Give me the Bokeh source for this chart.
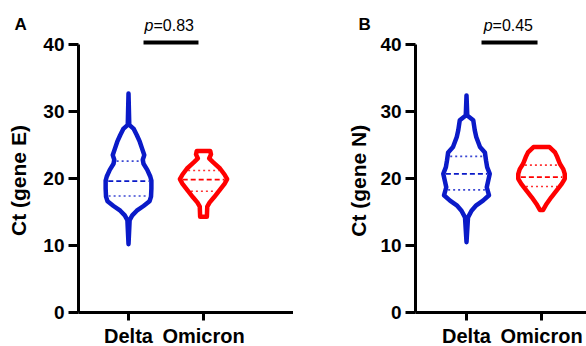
import numpy as np
from math import pi
from bokeh.plotting import figure
from bokeh.models import Range1d, FixedTicker, Label
from bokeh.layouts import row
from bokeh.embed import file_html
from bokeh.resources import INLINE

# ---------------- data ----------------
groups = ["Delta", "Omicron"]
y_ticks = [0, 10, 20, 30, 40]

# Panel A (gene E): violin profiles (Ct level, half-width in category units)
delta_e_ct = [32.7, 28.0, 27.4, 26.5, 25.5, 24.5, 23.5, 22.8, 22.2, 21.3, 20.3, 19.7, 18.5, 17.3, 16.6, 15.9, 15.2, 14.5, 13.8, 10.2]
delta_e_w = [0, 0.01, 0.07, 0.11, 0.15, 0.18, 0.21, 0.19, 0.20, 0.25, 0.29, 0.305, 0.305, 0.30, 0.28, 0.20, 0.11, 0.05, 0.015, 0]
omicron_e_ct = [24.1, 23.6, 23.0, 22.4, 21.5, 20.6, 19.9, 19.2, 18.2, 17.2, 16.4, 15.8, 14.3]
omicron_e_w = [0.09, 0.10, 0.075, 0.13, 0.22, 0.28, 0.315, 0.28, 0.21, 0.14, 0.08, 0.05, 0.045]
delta_e_quart = [17.4, 19.6, 22.6]
omicron_e_quart = [18.1, 19.85, 21.2]
p_e = "=0.83"

# Panel B (gene N)
delta_n_ct = [32.4, 29.4, 28.7, 27.2, 26.2, 24.7, 23.9, 22.7, 21.7, 20.7, 19.7, 18.7, 17.5, 16.7, 16.0, 15.2, 14.2, 10.5]
delta_n_w = [0, 0.01, 0.09, 0.11, 0.13, 0.18, 0.245, 0.26, 0.275, 0.31, 0.29, 0.27, 0.30, 0.22, 0.13, 0.067, 0.02, 0]
omicron_n_ct = [24.7, 23.9, 23.2, 22.2, 21.4, 20.7, 19.95, 19.2, 18.2, 17.2, 16.2, 15.3]
omicron_n_w = [0.107, 0.18, 0.21, 0.245, 0.29, 0.31, 0.31, 0.27, 0.20, 0.13, 0.067, 0.02]
delta_n_quart = [18.3, 20.7, 23.3]
omicron_n_quart = [18.8, 20.2, 22.0]
p_n = "=0.45"

BLUE = "#0A1AC8"
RED = "#FF0000"
FONT = "Liberation Sans"


def violin(p, center, ct, w, quart, color):
    ct = np.array(ct, dtype=float)
    w = np.array(w, dtype=float)
    xs = np.concatenate([center + w, (center - w)[::-1]])
    ys = np.concatenate([ct, ct[::-1]])
    p.patch(xs, ys, fill_alpha=0, line_color=color, line_width=4.5, line_join="round")
    order = np.argsort(ct)
    for i, q in enumerate(quart):
        hw = np.interp(q, ct[order], w[order]) - 0.035
        if i == 1:
            p.line([center - hw, center + hw], [q, q], line_color=color, line_width=1.8, line_dash="5 3")
        else:
            p.line([center - hw, center + hw], [q, q], line_color=color, line_width=1.6,
                   line_dash="2 3", line_alpha=0.8)


def panel(letter, ylabel, pval, xr, axis_x, violins, letter_x, label_x, label_y, p_x, bar_x):
    p = figure(output_backend="svg", toolbar_location=None,
               x_range=Range1d(*xr), y_range=Range1d(-5.07, 46.57),
               frame_width=293, frame_height=346,
               min_border_left=0, min_border_right=0,
               min_border_top=0, min_border_bottom=0,
               background_fill_color="white", border_fill_color="white")
    p.outline_line_color = None
    p.grid.visible = False

    ya = p.yaxis[0]
    ya.fixed_location = axis_x
    ya.ticker = FixedTicker(ticks=y_ticks)
    ya.bounds = (0, 40)
    ya.axis_line_width = 3
    ya.major_tick_line_width = 3
    ya.major_tick_out = 10
    ya.major_tick_in = 0
    ya.minor_tick_line_color = None
    ya.major_label_text_font = FONT
    ya.major_label_text_font_style = "bold"
    ya.major_label_text_font_size = "19px"
    ya.major_label_text_color = "black"
    ya.major_label_standoff = 4

    xa = p.xaxis[0]
    xa.fixed_location = 0
    xa.ticker = FixedTicker(ticks=[1, 2])
    xa.bounds = (axis_x, xr[1])
    xa.major_label_overrides = {1: groups[0], 2: groups[1]}
    xa.axis_line_width = 3
    xa.major_tick_line_width = 3
    xa.major_tick_out = 8
    xa.major_tick_in = 0
    xa.minor_tick_line_color = None
    xa.major_label_text_font = FONT
    xa.major_label_text_font_style = "bold"
    xa.major_label_text_font_size = "20px"
    xa.major_label_text_color = "black"
    xa.major_label_standoff = 4

    for center, (ct, w, quart, color) in zip([1, 2], violins):
        violin(p, center, ct, w, quart, color)

    # significance bar and p value
    p.line(bar_x, [40.3, 40.3], line_color="black", line_width=4)
    p.add_layout(Label(x=p_x, y=42.85, text="p", text_font=FONT, text_font_style="italic",
                       text_font_size="16px", text_align="right", text_baseline="alphabetic",
                       text_color="black"))
    p.add_layout(Label(x=p_x, y=42.85, text=pval, text_font=FONT,
                       text_font_size="16px", text_align="left", text_baseline="alphabetic",
                       text_color="black"))

    # panel letter
    p.add_layout(Label(x=letter_x, y=43.0, text=letter, text_font=FONT, text_font_style="bold",
                       text_font_size="17px", text_align="left", text_baseline="alphabetic",
                       text_color="black"))
    # y axis title
    p.add_layout(Label(x=label_x, y=label_y, text=ylabel, text_font=FONT, text_font_style="bold",
                       text_font_size="21px", text_align="center", text_baseline="middle",
                       angle=pi / 2, text_color="black"))
    return p


pa = panel("A", "Ct (gene E)", p_e, (-0.707, 3.2), 0.333,
           [(delta_e_ct, delta_e_w, delta_e_quart, BLUE),
            (omicron_e_ct, omicron_e_w, omicron_e_quart, RED)],
           -0.52, -0.47, 19.7, 1.333, [1.2, 1.933])
pb = panel("B", "Ct  (gene N)", p_n, (-1.307, 2.6), 0.32,
           [(delta_n_ct, delta_n_w, delta_n_quart, BLUE),
            (omicron_n_ct, omicron_n_w, omicron_n_quart, RED)],
           -0.44, -0.44, 20.1, 1.347, [1.2, 1.947])

layout = row(pa, pb)
open("out.html", "w").write(file_html(layout, INLINE))
